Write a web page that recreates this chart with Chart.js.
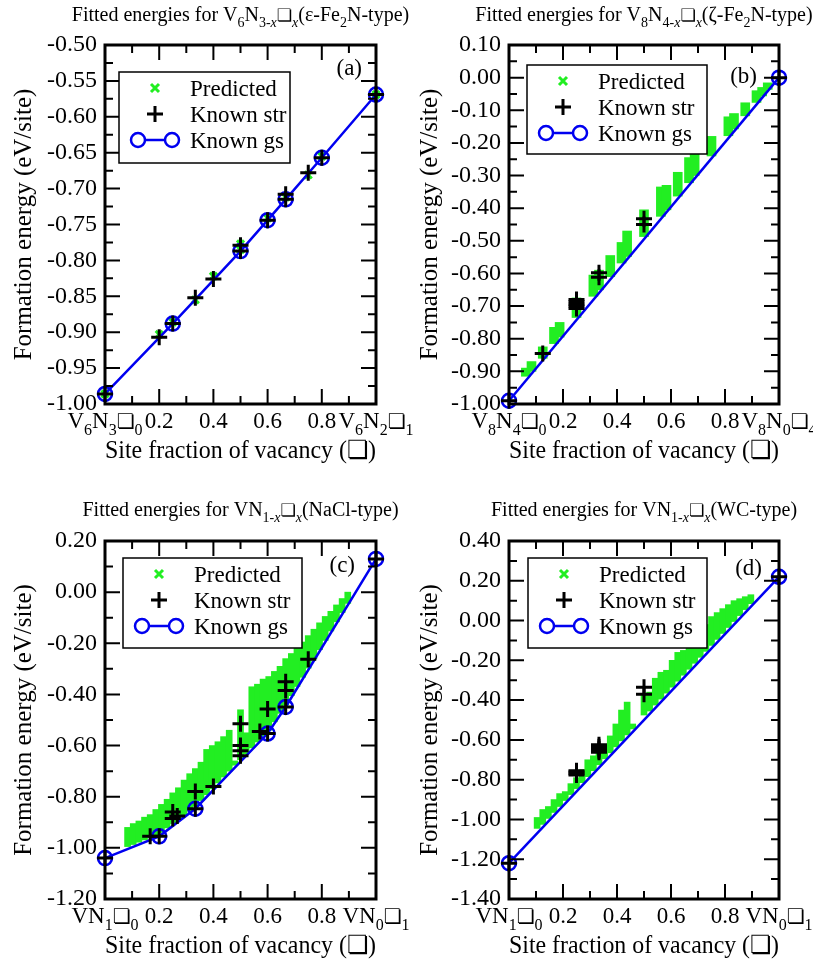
<!DOCTYPE html>
<html>
<head>
<meta charset="utf-8">
<script src="https://cdn.jsdelivr.net/npm/chart.js@4.4.1/dist/chart.umd.min.js"></script>
<style>
  html, body { margin: 0; padding: 0; background: #fff; }
  body { width: 813px; height: 965px; position: relative; overflow: hidden; }
  canvas { position: absolute; }
</style>
</head>
<body>
<canvas id="chartA" width="420" height="482" style="left:0;top:0"></canvas>
<canvas id="chartB" width="407" height="482" style="left:406px;top:0"></canvas>
<canvas id="chartC" width="420" height="483" style="left:0;top:482px"></canvas>
<canvas id="chartD" width="407" height="483" style="left:406px;top:482px"></canvas>
<script>
const SERIF = "'Liberation Serif', 'Times New Roman', Times, serif";
const GREEN = '#22ee22';
const BLUE = '#0000f0';

// x ticks every 0.1, labels on the even ones (ends are drawn as formulas)
const xTickText = ['', '', '0.2', '', '0.4', '', '0.6', '', '0.8', '', ''];

// ---- (a) V6N3-x, epsilon-Fe2N type ----
const yRangeA = [-1.0, -0.5, 0.025];
const predA_x = [0, 0.2, 0.25, 0.3333, 0.4, 0.5, 0.5, 0.6, 0.6667, 0.75, 0.8, 1.0];
const predA_y = [-0.986, -0.903, -0.886, -0.855, -0.822, -0.785, -0.777, -0.741, -0.712, -0.681, -0.655, -0.569];
const strA_x = [0, 0.2, 0.25, 0.3333, 0.4, 0.5, 0.5, 0.6, 0.6667, 0.6667, 0.75, 0.8, 1.0];
const strA_y = [-0.986, -0.907, -0.888, -0.852, -0.826, -0.787, -0.779, -0.744, -0.715, -0.708, -0.678, -0.657, -0.569];
const gsA_x = [0, 0.25, 0.5, 0.6, 0.6667, 0.8, 1.0];
const gsA_y = [-0.986, -0.888, -0.787, -0.744, -0.715, -0.657, -0.569];

// ---- (b) V8N4-x, zeta-Fe2N type ----
const yRangeB = [-1.0, 0.1, 0.05];
const predB_x  = [0.0625, 0.0833, 0.125, 0.1667, 0.1875, 0.25, 0.3125, 0.3333, 0.375, 0.4167, 0.4375, 0.5,
                  0.5625, 0.5833, 0.625, 0.6667, 0.6875, 0.75, 0.8125, 0.8333, 0.875, 0.9167, 0.9375, 0.9583];
const predB_lo = [-0.915, -0.90, -0.86, -0.815, -0.795, -0.735, -0.67, -0.65, -0.61, -0.568, -0.548, -0.487,
                  -0.425, -0.405, -0.363, -0.322, -0.30, -0.24, -0.178, -0.157, -0.117, -0.076, -0.056, -0.036];
const predB_hi = [-0.89, -0.87, -0.825, -0.765, -0.75, -0.675, -0.605, -0.59, -0.545, -0.505, -0.47, -0.405,
                  -0.335, -0.33, -0.29, -0.245, -0.235, -0.18, -0.12, -0.11, -0.077, -0.04, -0.03, -0.016];
const strB_x = [0, 0.125, 0.25, 0.25, 0.25, 0.25, 0.25, 0.3333, 0.3333, 0.5, 0.5, 1.0];
const strB_y = [-0.99, -0.845, -0.68, -0.687, -0.694, -0.70, -0.707, -0.598, -0.612, -0.432, -0.45, 0.0];
const gsB_x = [0, 1.0];
const gsB_y = [-0.99, 0.0];

// ---- (c) VN1-x, NaCl type ----
const yRangeC = [-1.2, 0.2, 0.1];
const predC_x  = [0.0833, 0.1042, 0.125, 0.1458, 0.1667, 0.1875, 0.2083, 0.2292, 0.25, 0.2708, 0.2917, 0.3125,
                  0.3333, 0.3542, 0.375, 0.3958, 0.4167, 0.4375, 0.4583, 0.4792, 0.5, 0.5208, 0.5417, 0.5625,
                  0.5833, 0.6042, 0.625, 0.6458, 0.6667, 0.6875, 0.7083, 0.7292, 0.75, 0.7708, 0.7917, 0.8125,
                  0.8333, 0.8542, 0.875, 0.8958];
const predC_lo = [-0.995, -0.987, -0.978, -0.969, -0.96, -0.951, -0.94, -0.922, -0.905, -0.889, -0.872, -0.855,
                  -0.838, -0.815, -0.792, -0.769, -0.746, -0.723, -0.70, -0.677, -0.655, -0.632, -0.609, -0.586,
                  -0.563, -0.54, -0.507, -0.474, -0.442, -0.405, -0.369, -0.333, -0.297, -0.261, -0.225, -0.189,
                  -0.152, -0.116, -0.08, -0.044];
const predC_hi = [-0.92, -0.905, -0.895, -0.88, -0.87, -0.85, -0.83, -0.81, -0.785, -0.765, -0.735, -0.71,
                  -0.69, -0.665, -0.615, -0.60, -0.585, -0.565, -0.54, -0.66, -0.46, -0.55, -0.37, -0.36,
                  -0.34, -0.33, -0.31, -0.29, -0.26, -0.24, -0.22, -0.195, -0.17, -0.145, -0.12, -0.095,
                  -0.075, -0.05, -0.025, 0.0];
const strC_x = [0, 0.1667, 0.2, 0.25, 0.25, 0.2667, 0.3333, 0.3333, 0.4, 0.5, 0.5, 0.5, 0.5,
                0.5714, 0.6, 0.6, 0.6667, 0.6667, 0.6667, 0.75, 1.0];
const strC_y = [-1.04, -0.955, -0.955, -0.86, -0.885, -0.875, -0.78, -0.847, -0.76, -0.515, -0.60, -0.62, -0.64,
                -0.545, -0.457, -0.553, -0.35, -0.385, -0.449, -0.262, 0.13];
const gsC_x = [0, 0.2, 0.3333, 0.6, 0.6667, 1.0];
const gsC_y = [-1.04, -0.955, -0.847, -0.553, -0.449, 0.13];

// ---- (d) VN1-x, WC type ----
const yRangeD = [-1.4, 0.4, 0.1];
const predD_x  = [0.1042, 0.125, 0.1458, 0.1667, 0.1875, 0.2083, 0.2292, 0.25, 0.2708, 0.2917, 0.3125, 0.3333,
                  0.3542, 0.375, 0.3958, 0.4167, 0.4375, 0.4583, 0.5, 0.5208, 0.5417, 0.5625, 0.5833, 0.6042,
                  0.625, 0.6458, 0.6667, 0.6875, 0.7083, 0.7292, 0.75, 0.7708, 0.7917, 0.8125, 0.8333, 0.8542,
                  0.875, 0.8958];
const predD_lo = [-1.045, -1.025, -0.995, -0.965, -0.935, -0.905, -0.875, -0.845, -0.815, -0.785, -0.755, -0.725,
                  -0.695, -0.665, -0.635, -0.605, -0.575, -0.545, -0.475, -0.455, -0.425, -0.395, -0.365, -0.335,
                  -0.305, -0.275, -0.245, -0.215, -0.185, -0.155, -0.125, -0.095, -0.065, -0.035, -0.005, 0.025,
                  0.055, 0.085];
const predD_hi = [-0.99, -0.95, -0.935, -0.90, -0.87, -0.86, -0.82, -0.79, -0.75, -0.70, -0.68, -0.65,
                  -0.63, -0.58, -0.52, -0.45, -0.41, -0.52, -0.37, -0.36, -0.29, -0.26, -0.25, -0.20,
                  -0.16, -0.15, -0.12, -0.06, -0.04, -0.02, 0.02, 0.04, 0.06, 0.08, 0.10, 0.11,
                  0.12, 0.13];
const strD_x = [0, 0.25, 0.25, 0.25, 0.25, 0.3333, 0.3333, 0.3333, 0.3333, 0.3333, 0.5, 0.5, 1.0];
const strD_y = [-1.22, -0.755, -0.762, -0.77, -0.777, -0.625, -0.635, -0.645, -0.655, -0.662, -0.335, -0.37, 0.22];
const gsD_x = [0, 1.0];
const gsD_y = [-1.22, 0.22];

// rich text: [text, kind], kind '' | 'sub' | 'subi' | 'box'
function segFont(kind, size) {
  if (kind === 'box') return Math.round(size * 0.85) + "px 'DejaVu Sans'";
  if (kind === 'sub') return Math.round(size * 0.7) + 'px ' + SERIF;
  if (kind === 'subi') return 'italic ' + Math.round(size * 0.7) + 'px ' + SERIF;
  return size + 'px ' + SERIF;
}
function drawRich(ctx, segs, x, y, size, align) {
  let w = 0;
  segs.forEach(([t, k]) => { ctx.font = segFont(k, size); w += ctx.measureText(t).width; });
  let cx = align === 'center' ? x - w / 2 : (align === 'right' ? x - w : x);
  ctx.textAlign = 'left';
  ctx.textBaseline = 'alphabetic';
  segs.forEach(([t, k]) => {
    ctx.font = segFont(k, size);
    const dy = (k === 'sub' || k === 'subi') ? size * 0.3 : 0;
    ctx.fillText(t, cx, y + dy);
    cx += ctx.measureText(t).width;
  });
}

function fmt(v, d) {
  if (Math.abs(v) < 1e-9) v = 0;
  return v.toFixed(d);
}

// frame, inward ticks, titles, formula tick labels, legend box, panel tag
function panelPlugin(p) {
  return {
    id: 'panel',
    afterDatasetsDraw(chart) {
      const { ctx, chartArea: a, scales: { x, y } } = chart;
      ctx.save();
      ctx.strokeStyle = '#000';
      ctx.lineWidth = 2;
      ctx.beginPath();
      x.ticks.forEach((t, i) => {
        const px = x.getPixelForValue(t.value);
        const len = i % 2 === 0 ? 15 : 8;
        ctx.moveTo(px, a.bottom); ctx.lineTo(px, a.bottom - len);
        ctx.moveTo(px, a.top); ctx.lineTo(px, a.top + len);
      });
      y.ticks.forEach((t, i) => {
        const py = y.getPixelForValue(t.value);
        const len = i % 2 === 0 ? 15 : 8;
        ctx.moveTo(a.left, py); ctx.lineTo(a.left + len, py);
        ctx.moveTo(a.right, py); ctx.lineTo(a.right - len, py);
      });
      ctx.stroke();
      ctx.lineWidth = 3;
      ctx.strokeRect(a.left, a.top, a.right - a.left, a.bottom - a.top);
      ctx.restore();
    },
    afterDraw(chart) {
      const { ctx, chartArea: a, scales: { x } } = chart;
      ctx.save();
      ctx.fillStyle = '#000';

      // title above the plot
      drawRich(ctx, p.title, (a.left + a.right) / 2, p.titleY, 20, 'center');

      // x tick labels
      const base = a.bottom + 24;
      x.ticks.forEach((t, i) => {
        const px = x.getPixelForValue(t.value);
        if (i === 0) drawRich(ctx, p.xEnds[0], px, base, 23, 'center');
        else if (i === x.ticks.length - 1) drawRich(ctx, p.xEnds[1], px, base, 23, 'center');
        else if (xTickText[i]) drawRich(ctx, [[xTickText[i], '']], px, base, 23, 'center');
      });

      // legend
      const L = p.legend;
      ctx.fillStyle = '#fff';
      ctx.fillRect(L.x, L.y, L.w, L.h);
      ctx.strokeStyle = '#000';
      ctx.lineWidth = 1.5;
      ctx.strokeRect(L.x, L.y, L.w, L.h);
      const rows = [L.y + 24, L.y + 50, L.y + 76];
      ctx.font = '23px ' + SERIF;
      ctx.fillStyle = '#000';
      ctx.textAlign = 'left';
      ctx.textBaseline = 'alphabetic';
      ctx.fillText('Predicted', L.x + 71, rows[0]);
      ctx.fillText('Known str', L.x + 71, rows[1]);
      ctx.fillText('Known gs', L.x + 71, rows[2]);
      // symbols
      let cy = rows[0] - 8, sx = L.x + 36;
      ctx.strokeStyle = GREEN;
      ctx.lineWidth = 3;
      ctx.beginPath();
      ctx.moveTo(sx - 4, cy - 4); ctx.lineTo(sx + 4, cy + 4);
      ctx.moveTo(sx + 4, cy - 4); ctx.lineTo(sx - 4, cy + 4);
      ctx.stroke();
      cy = rows[1] - 8;
      ctx.strokeStyle = '#000';
      ctx.beginPath();
      ctx.moveTo(sx - 8, cy); ctx.lineTo(sx + 8, cy);
      ctx.moveTo(sx, cy - 8); ctx.lineTo(sx, cy + 8);
      ctx.stroke();
      cy = rows[2] - 8;
      ctx.strokeStyle = BLUE;
      ctx.lineWidth = 2.5;
      ctx.beginPath();
      ctx.arc(L.x + 19, cy, 7, 0, Math.PI * 2);
      ctx.moveTo(L.x + 53 + 7, cy);
      ctx.arc(L.x + 53, cy, 7, 0, Math.PI * 2);
      ctx.moveTo(L.x + 26, cy); ctx.lineTo(L.x + 46, cy);
      ctx.stroke();

      // panel tag
      ctx.fillStyle = '#000';
      ctx.font = '23px ' + SERIF;
      ctx.textAlign = 'right';
      ctx.fillText(p.tag, p.tagX, p.tagY);
      ctx.restore();
    }
  };
}

function pts(xs, ys) {
  return xs.map((x, i) => ({ x, y: ys[i] }));
}

function buildPanel(id, p) {
  const datasets = [];
  if (p.predLo) {
    datasets.push({
      type: 'bar', label: 'Predicted',
      data: p.predX.map((x, i) => ({ x, y: [p.predLo[i], p.predHi[i]] })),
      backgroundColor: GREEN, borderWidth: 0, barThickness: p.barW, grouped: false, order: 3
    });
  } else {
    datasets.push({
      type: 'scatter', label: 'Predicted', data: pts(p.predX, p.predY),
      pointStyle: 'crossRot', pointRadius: 5, borderColor: GREEN, pointBorderColor: GREEN,
      borderWidth: 3, pointBorderWidth: 3, clip: false, order: 3
    });
  }
  datasets.push({
    type: 'line', label: 'Known gs', data: pts(p.gsX, p.gsY),
    borderColor: BLUE, borderWidth: 2.5, tension: 0,
    pointStyle: 'circle', pointRadius: 7, pointBorderWidth: 2.5,
    pointBorderColor: BLUE, pointBackgroundColor: 'rgba(0,0,0,0)', clip: false, order: 2
  });
  datasets.push({
    type: 'scatter', label: 'Known str', data: pts(p.strX, p.strY),
    pointStyle: 'cross', pointRadius: 8, borderColor: '#000', pointBorderColor: '#000',
    borderWidth: 3, pointBorderWidth: 3, clip: false, order: 1
  });

  const [yMin, yMax, yStep] = p.yRange;
  return new Chart(document.getElementById(id), {
    type: 'scatter',
    data: { datasets },
    options: {
      responsive: false,
      animation: false,
      devicePixelRatio: 1,
      events: [],
      layout: { padding: { left: 0, top: p.top, right: p.right, bottom: 0 } },
      plugins: { legend: { display: false }, tooltip: { enabled: false }, title: { display: false } },
      scales: {
        x: {
          type: 'linear', min: 0, max: 1, offset: false,
          ticks: { stepSize: 0.1, display: false, autoSkip: false },
          grid: { display: false, drawTicks: false },
          border: { display: false },
          title: {
            display: true, text: 'Site fraction of vacancy (❏)', color: '#000',
            font: { family: SERIF, size: 25 }, padding: { top: 0, bottom: p.xTitlePad }
          },
          afterFit: (s) => { s.height = p.xH; }
        },
        y: {
          type: 'linear', min: yMin, max: yMax,
          ticks: {
            stepSize: yStep, autoSkip: false, padding: 8, color: '#000',
            font: { family: SERIF, size: 24 },
            callback: (v, i) => (i % 2 === 0 ? fmt(v, 2) : '')
          },
          grid: { display: false, drawTicks: false },
          border: { display: false },
          title: {
            display: true, text: 'Formation energy (eV/site)', color: '#000',
            font: { family: SERIF, size: 25 }, padding: { top: 9, bottom: 0 }
          },
          afterFit: (s) => { s.width = p.yW; }
        }
      }
    },
    plugins: [panelPlugin(p)]
  });
}

buildPanel('chartA', {
  yRange: yRangeA, predX: predA_x, predY: predA_y, strX: strA_x, strY: strA_y, gsX: gsA_x, gsY: gsA_y,
  top: 45, right: 44, yW: 105, xH: 78, xTitlePad: 16, titleY: 21,
  title: [['Fitted energies for V', ''], ['6', 'sub'], ['N', ''], ['3-', 'sub'], ['x', 'subi'], ['❏', 'box'], ['x', 'subi'],
          ['(ε-Fe', ''], ['2', 'sub'], ['N-type)', '']],
  xEnds: [[['V', ''], ['6', 'sub'], ['N', ''], ['3', 'sub'], ['❏', 'box'], ['0', 'sub']],
          [['V', ''], ['6', 'sub'], ['N', ''], ['2', 'sub'], ['❏', 'box'], ['1', 'sub']]],
  legend: { x: 119, y: 72, w: 171, h: 91 },
  tag: '(a)', tagX: 362, tagY: 75
});

buildPanel('chartB', {
  yRange: yRangeB, predX: predB_x, predLo: predB_lo, predHi: predB_hi, barW: 9,
  strX: strB_x, strY: strB_y, gsX: gsB_x, gsY: gsB_y,
  top: 45, right: 34, yW: 103, xH: 78, xTitlePad: 16, titleY: 21,
  title: [['Fitted energies for V', ''], ['8', 'sub'], ['N', ''], ['4-', 'sub'], ['x', 'subi'], ['❏', 'box'], ['x', 'subi'],
          ['(ζ-Fe', ''], ['2', 'sub'], ['N-type)', '']],
  xEnds: [[['V', ''], ['8', 'sub'], ['N', ''], ['4', 'sub'], ['❏', 'box'], ['0', 'sub']],
          [['V', ''], ['8', 'sub'], ['N', ''], ['0', 'sub'], ['❏', 'box'], ['4', 'sub']]],
  legend: { x: 121, y: 65, w: 180, h: 89 },
  tag: '(b)', tagX: 351, tagY: 83
});

buildPanel('chartC', {
  yRange: yRangeC, predX: predC_x, predLo: predC_lo, predHi: predC_hi, barW: 6,
  strX: strC_x, strY: strC_y, gsX: gsC_x, gsY: gsC_y,
  top: 59, right: 44, yW: 105, xH: 66, xTitlePad: 4, titleY: 34,
  title: [['Fitted energies for VN', ''], ['1-', 'sub'], ['x', 'subi'], ['❏', 'box'], ['x', 'subi'], ['(NaCl-type)', '']],
  xEnds: [[['VN', ''], ['1', 'sub'], ['❏', 'box'], ['0', 'sub']],
          [['VN', ''], ['0', 'sub'], ['❏', 'box'], ['1', 'sub']]],
  legend: { x: 123, y: 76, w: 179, h: 90 },
  tag: '(c)', tagX: 355, tagY: 90
});

buildPanel('chartD', {
  yRange: yRangeD, predX: predD_x, predLo: predD_lo, predHi: predD_hi, barW: 6,
  strX: strD_x, strY: strD_y, gsX: gsD_x, gsY: gsD_y,
  top: 59, right: 34, yW: 103, xH: 66, xTitlePad: 4, titleY: 34,
  title: [['Fitted energies for VN', ''], ['1-', 'sub'], ['x', 'subi'], ['❏', 'box'], ['x', 'subi'], ['(WC-type)', '']],
  xEnds: [[['VN', ''], ['1', 'sub'], ['❏', 'box'], ['0', 'sub']],
          [['VN', ''], ['0', 'sub'], ['❏', 'box'], ['1', 'sub']]],
  legend: { x: 122, y: 76, w: 179, h: 90 },
  tag: '(d)', tagX: 356, tagY: 93
});
</script>
</body>
</html>
